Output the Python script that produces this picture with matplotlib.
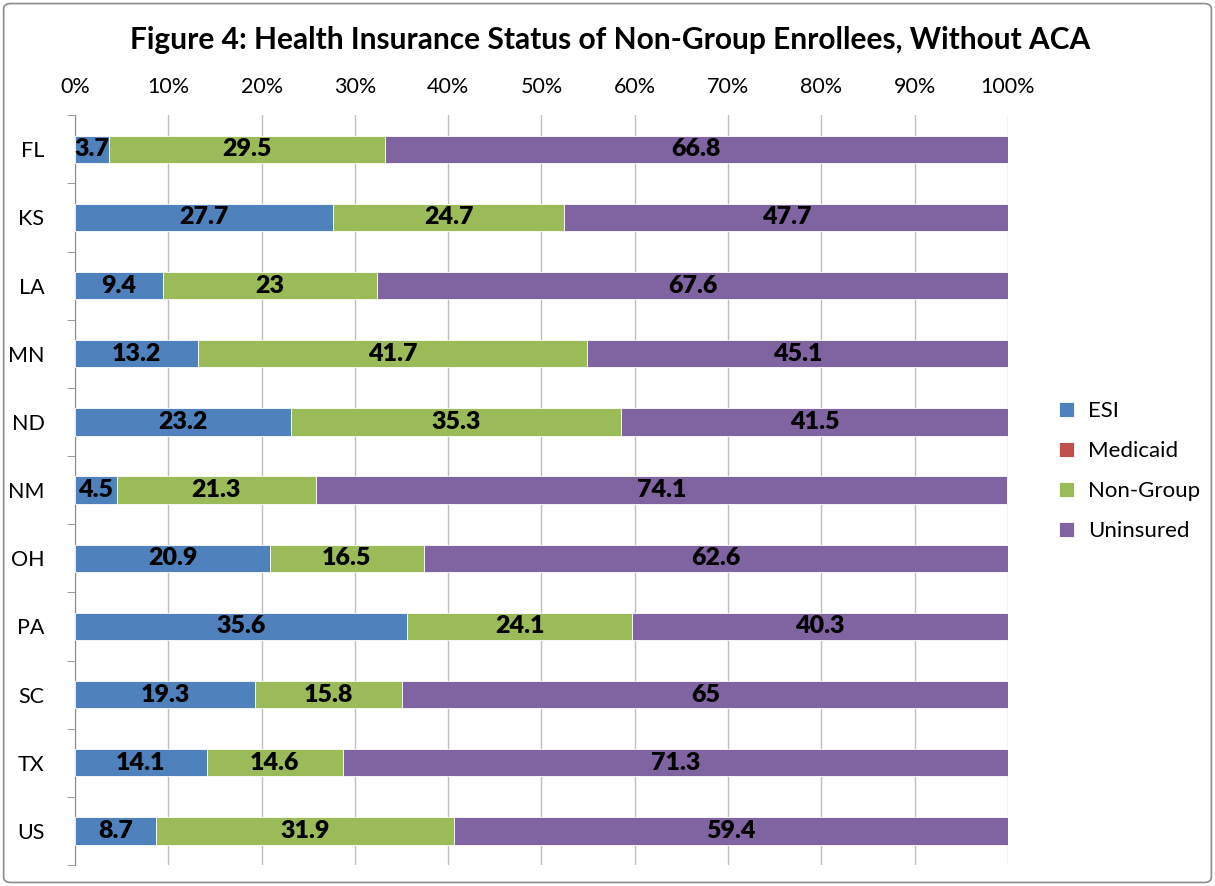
import matplotlib
matplotlib.use("Agg")
import matplotlib.pyplot as plt
from matplotlib.patches import FancyBboxPatch
import numpy as np

states = ["FL", "KS", "LA", "MN", "ND", "NM", "OH", "PA", "SC", "TX", "US"]
esi = [3.7, 27.7, 9.4, 13.2, 23.2, 4.5, 20.9, 35.6, 19.3, 14.1, 8.7]
medicaid = [0, 0, 0, 0, 0, 0, 0, 0, 0, 0, 0]
nongroup = [29.5, 24.7, 23, 41.7, 35.3, 21.3, 16.5, 24.1, 15.8, 14.6, 31.9]
uninsured = [66.8, 47.7, 67.6, 45.1, 41.5, 74.1, 62.6, 40.3, 65, 71.3, 59.4]
series_names = ["ESI", "Medicaid", "Non-Group", "Uninsured"]
colors = ["#4F81BD", "#C0504D", "#9BBB59", "#8064A2"]
xticks = [0, 10, 20, 30, 40, 50, 60, 70, 80, 90, 100]

plt.rcParams['font.family'] = ['Lato', 'DejaVu Sans']

fig = plt.figure(figsize=(12.15, 8.86), dpi=100)
fig.patches.append(FancyBboxPatch((0.003, 0.004), 0.994, 0.992, boxstyle="round,pad=0,rounding_size=0.006",
                                  transform=fig.transFigure, facecolor="none", edgecolor="#8c8c8c",
                                  linewidth=1.2, zorder=10))
ax = fig.add_axes([0.0617, 0.0237, 0.7679, 0.8463])

y = np.arange(len(states))
data = [esi, medicaid, nongroup, uninsured]
left = np.zeros(len(states))
for vals, name, c in zip(data, series_names, colors):
    vals = np.array(vals, dtype=float)
    ax.barh(y, vals, left=left, height=0.4, color=c, label=name, edgecolor="white", linewidth=0.6, zorder=3)
    for i, v in enumerate(vals):
        if v > 0:
            ax.text(left[i] + v / 2, y[i], f"{v:g}", ha="center", va="center", fontsize=18,
                    fontweight="heavy", color="black", zorder=4)
    left += vals

ax.set_xlim(0, 100)
ax.set_ylim(len(states) - 0.5, -0.5)
ax.xaxis.tick_top()
ax.set_xticks(xticks)
ax.set_xticklabels([f"{t}%" for t in xticks], fontsize=15.5)
ax.tick_params(axis="x", length=0, pad=13)
ax.set_yticks(y)
ax.set_yticklabels(states, fontsize=15.5)
ax.set_yticks(np.arange(-0.5, len(states)), minor=True)
ax.tick_params(axis="y", which="major", length=0, pad=22)
ax.tick_params(axis="y", which="minor", length=6, color="#8c8c8c")
ax.grid(axis="x", color="#bfbfbf", linewidth=1, zorder=0)
for s in ["top", "right", "bottom"]:
    ax.spines[s].set_visible(False)
ax.spines["left"].set_color("#8c8c8c")

fig.text(0.502, 0.955, "Figure 4: Health Insurance Status of Non-Group Enrollees, Without ACA",
         ha="center", va="center", fontsize=21.5, fontweight="bold")

handles, labels = ax.get_legend_handles_labels()
fig.legend(handles, labels, loc="center left", bbox_to_anchor=(0.855, 0.468), frameon=False,
           fontsize=16, handlelength=0.7, handleheight=0.7, labelspacing=0.9, handletextpad=0.6)

fig.savefig("out.png", dpi=100)
